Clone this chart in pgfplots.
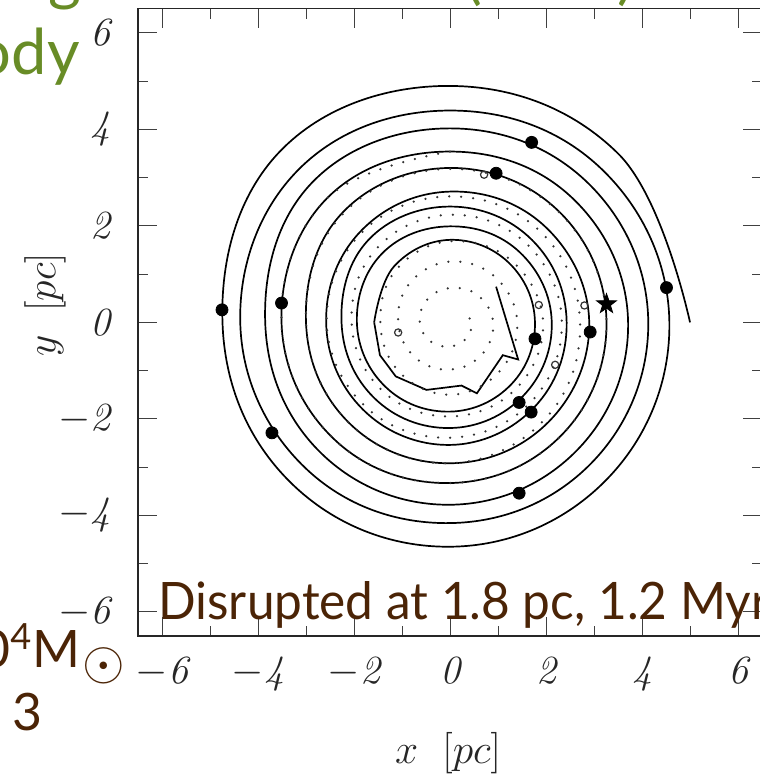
\documentclass[border=0pt]{standalone}
\usepackage{fontspec}
\usepackage{graphicx}
\newfontfamily\lato{Lato}
\usepackage{pgfplots}
\pgfplotsset{compat=1.18}
\definecolor{brn}{RGB}{75,36,6}
\definecolor{grn}{RGB}{104,140,38}
\pgfdeclareplotmark{fstar}{%
  \pgfpathmoveto{\pgfpointpolar{90}{\pgfplotmarksize}}%
  \pgfpathlineto{\pgfpointpolar{126}{0.4\pgfplotmarksize}}%
  \pgfpathlineto{\pgfpointpolar{162}{\pgfplotmarksize}}%
  \pgfpathlineto{\pgfpointpolar{198}{0.4\pgfplotmarksize}}%
  \pgfpathlineto{\pgfpointpolar{234}{\pgfplotmarksize}}%
  \pgfpathlineto{\pgfpointpolar{270}{0.4\pgfplotmarksize}}%
  \pgfpathlineto{\pgfpointpolar{306}{\pgfplotmarksize}}%
  \pgfpathlineto{\pgfpointpolar{342}{0.4\pgfplotmarksize}}%
  \pgfpathlineto{\pgfpointpolar{18}{\pgfplotmarksize}}%
  \pgfpathlineto{\pgfpointpolar{54}{0.4\pgfplotmarksize}}%
  \pgfpathclose
  \pgfusepathqfillstroke
}
\begin{document}
\begin{tikzpicture}
\begin{axis}[
  at={(0,0)}, anchor=south west,
  x=24pt, y=24.125pt,
  xmin=-6.5, xmax=6.5, ymin=-6.5, ymax=6.5,
  xtick={-6,-4,...,6}, ytick={-6,-4,...,6},
  minor xtick={-5,-3,...,5}, minor ytick={-5,-3,...,5},
  tick align=inside,
  major tick length=9.5pt, minor tick length=5pt,
  every tick/.style={black!75, line width=0.5pt},
  axis line style={line width=0.6pt, black!85},
  xticklabel={$\mathit{\pgfmathprintnumber{\tick}}$},
  yticklabel={$\mathit{\pgfmathprintnumber{\tick}}$},
  ticklabel style={font=\fontsize{20}{24}\selectfont, black!85},
  xticklabel style={yshift=-7pt},
  yticklabel style={xshift=-10pt},
  xlabel={$x\ \ [pc]$}, ylabel={$y\ \ [pc]$},
  label style={font=\fontsize{20}{24}\selectfont, black!85},
  xlabel style={at={(axis description cs:0.497,-0.2026)}, anchor=base},
  ylabel style={at={(axis description cs:-0.149,0.528)}, anchor=center},
]
% solid orbit
\addplot[black, line width=0.85pt, smooth, tension=0.68, no markers] coordinates {
(5.00,0) (3.500,3.500) (0,4.90) (-3.543,3.543) (-4.74,0) (-3.320,-3.320) (0,-4.65) (3.260,-3.260)
(4.57,0) (3.168,3.168) (0,4.39) (-3.161,3.161) (-4.37,0) (-3.016,-3.016) (0,-4.16) (2.931,-2.931)
(4.13,0) (2.881,2.881) (0,4.02) (-2.885,2.885) (-3.85,0) (-2.698,-2.698) (0,-3.78) (2.648,-2.648)
(3.71,0) (2.563,2.563) (0,3.54) (-2.567,2.567) (-3.51,0) (-2.418,-2.418) (0,-3.33) (2.330,-2.330)
(3.26,0) (2.284,2.284) (0,3.20) (-2.256,2.256) (-3.00,0) (-2.093,-2.093) (0,-2.92) (2.058,-2.058)
(2.90,0) (1.983,1.983) (0,2.71) (-1.874,1.874) (-2.58,0) (-1.810,-1.810) (0,-2.54) (1.757,-1.757)
(2.43,0) (1.708,1.708) (0,2.40) (-1.704,1.704) (-2.26,0) (-1.573,-1.573) (0,-2.19) (1.524,-1.524)
(2.12,0) (1.453,1.453) (0,1.99) (-1.421,1.421) (-1.94,0) (-1.340,-1.340) (0,-1.85) (1.280,-1.280)
(1.77,0) (1.230,1.230) (0,1.71) (-1.163,1.163) (-1.58,0)
};
\addplot[black, line width=0.85pt, no markers] coordinates {
(-1.58,0) (-1.46,-0.68) (-1.13,-1.12) (-0.49,-1.40) (0.24,-1.31) (0.56,-1.47) (1.10,-0.68) (1.42,-0.77) (0.96,0.74)
};
% dotted orbit
\addplot[black!80, line width=1.25pt, line cap=round, dash pattern=on 0pt off 6pt, smooth, tension=0.68, no markers] coordinates {
(0,3.54) (-2.567,2.567) (-3.51,0) (-2.418,-2.418) (0,-3.33) (2.330,-2.330)
(3.26,0) (2.277,2.277) (0,3.18) (-2.240,2.240) (-3.00,0) (-2.093,-2.093) (0,-2.92) (1.991,-1.991)
(2.71,0) (1.881,1.881) (0,2.61) (-1.850,1.850) (-2.57,0) (-1.754,-1.754) (0,-2.39) (1.669,-1.669)
(2.33,0) (1.612,1.612) (0,2.23) (-1.530,1.530) (-2.05,0) (-1.414,-1.414) (0,-1.95) (1.375,-1.375)
(1.94,0) (1.280,1.280) (0,1.68) (-1.107,1.107) (-1.45,0) (-1.043,-1.043) (0,-1.50) (1.025,-1.025)
(1.40,0) (0.940,0.940) (0,1.26) (-0.827,0.827) (-1.08,0) (-0.728,-0.728) (0,-0.98) (0.665,-0.665)
(0.90,0) (0.569,0.569) (0,0.71) (-0.474,0.474) (-0.63,0) (-0.400,-0.400) (0,-0.50) (0.336,-0.336)
(0.45,0) (0.25,0.22)
};
% open circles
\addplot[only marks, mark=o, mark size=1.8pt, black!80, mark options={line width=0.6pt}] coordinates {
(1.85,0.36) (2.80,0.35) (2.19,-0.88) (-1.08,-0.21) (0.71,3.06)
};
% filled dots
\addplot[only marks, mark=*, mark size=3pt, black] coordinates {
(-4.75,0.26) (-3.51,0.40) (1.70,3.73) (0.96,3.09) (4.51,0.72) (2.92,-0.20)
(1.77,-0.34) (1.44,-1.66) (1.69,-1.86) (1.44,-3.54) (-3.71,-2.29)
};
% star
\addplot[only marks, mark=fstar, mark size=5.2pt, black] coordinates {(3.26,0.38)};
\end{axis}
\node[anchor=base west, inner sep=0, text=brn, font=\lato\fontsize{25.8}{30}\selectfont, xscale=0.96, transform shape] at (10pt,8pt) {Disrupted at 1.8 pc, 1.2 Myr};
\node[anchor=base west, inner sep=0, text=brn, font=\lato\fontsize{25.8}{30}\selectfont] at (-79pt,-16pt) {0\textsuperscript{4}M\hspace{1pt}\raisebox{-5.6pt}{\scalebox{1.1}{$\odot$}}};
\node[anchor=base east, inner sep=0, text=brn, font=\lato\fontsize{25.8}{30}\selectfont] at (-47.5pt,-47pt) {= 3};
\node[anchor=base east, inner sep=0, text=grn, font=\lato\fontsize{31.6}{36}\selectfont] at (-29pt,280.5pt) {N-body};
\node[anchor=base east, inner sep=0, text=grn, font=\lato\fontsize{31.6}{36}\selectfont] at (-28pt,318.5pt) {g};
\node[anchor=base west, inner sep=0, text=grn, font=\lato\fontsize{31.6}{36}\selectfont] at (163.5pt,319pt) {(};
\node[anchor=base east, inner sep=0, text=grn, font=\lato\fontsize{31.6}{36}\selectfont] at (248.5pt,319pt) {)};
\pgfresetboundingbox
\useasboundingbox (-69pt,-71.5pt) rectangle (310.5pt,318pt);
\end{tikzpicture}
\end{document}
